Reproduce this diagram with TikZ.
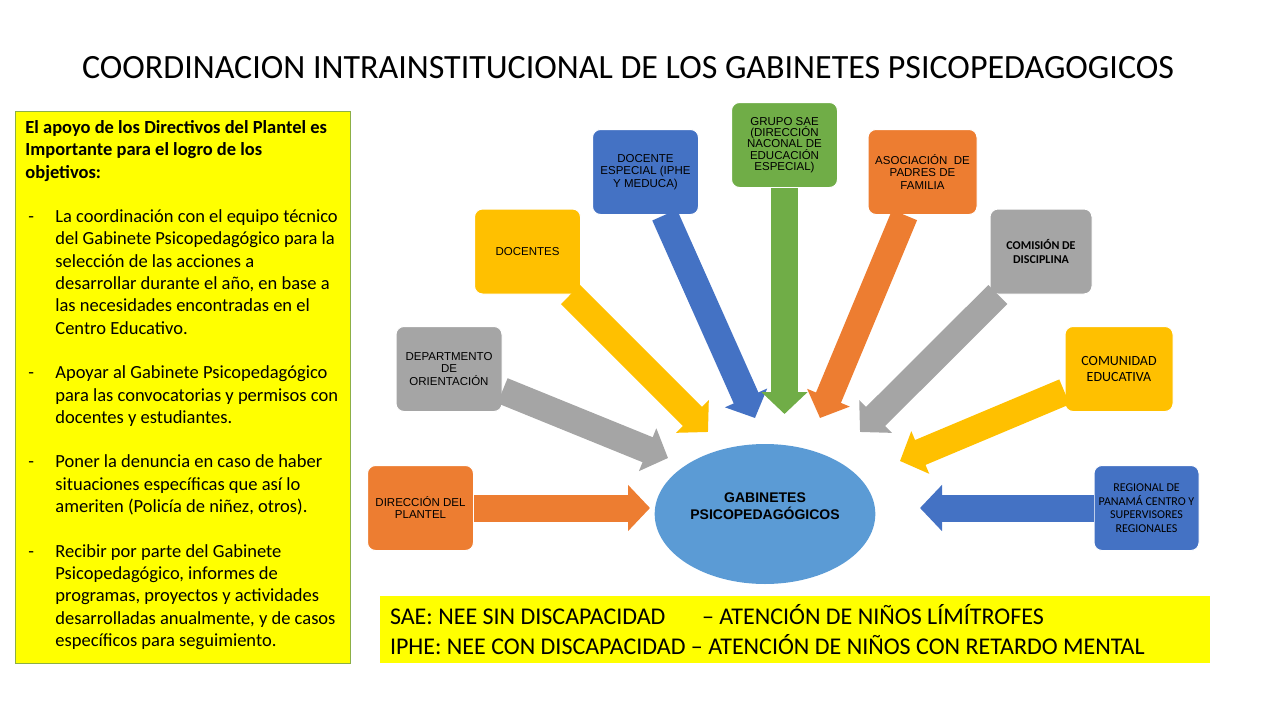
\documentclass[tikz,border=0pt]{standalone}
\usepackage{fontspec}
\setmainfont{Carlito}
\newfontfamily\arialf{Liberation Sans}
\usetikzlibrary{arrows.meta, positioning, shapes.geometric}
\definecolor{cNaranja}{HTML}{ED7D31}
\definecolor{cGris}{HTML}{A5A5A5}
\definecolor{cOro}{HTML}{FFC000}
\definecolor{cAzul}{HTML}{4472C4}
\definecolor{cVerde}{HTML}{70AD47}
\definecolor{cCielo}{HTML}{5B9BD5}
\definecolor{cAmarillo}{HTML}{FFFF00}
\definecolor{cBorde}{RGB}{140,175,70}
\newcommand\guion{\makebox[30pt][l]{\hspace{3pt}-}}
\newcommand\sangria{\hspace*{30pt}}

\begin{document}
\begin{tikzpicture}[x=1pt, y=-1pt,
    caja/.style={draw=white, line width=1pt, rounded corners=8pt, minimum width=106pt,
        minimum height=85pt, align=center, inner sep=2pt,
        font=\arialf\fontsize{11.5}{12}\selectfont},
    flecha/.style={line width=27pt, -{Triangle[width=45pt, length=22pt]}}]
    \useasboundingbox (0,0) rectangle (1280,720);
    % titulo
    \node[font=\fontsize{34}{36}\selectfont] (titulo) at (628,68) {COORDINACION INTRAINSTITUCIONAL DE LOS GABINETES PSICOPEDAGOGICOS};
    % panel izquierdo
    \node[draw=cBorde, fill=cAmarillo, line width=0.8pt, anchor=north west, inner xsep=10pt, inner ysep=9pt] (apoyo) at (15,111)
    {\parbox[c][534pt][t]{315pt}{\raggedright\fontsize{18.5}{22.3}\selectfont
        {\bfseries El apoyo de los Directivos del Plantel es\\
        Importante para el logro de los\\
        objetivos:}\\[22.3pt]
        \guion La coordinación con el equipo técnico\\
        \sangria del Gabinete Psicopedagógico para la\\
        \sangria selección de las acciones a\\
        \sangria desarrollar durante el año, en base a\\
        \sangria las necesidades encontradas en el\\
        \sangria Centro Educativo.\\[22.3pt]
        \guion Apoyar al Gabinete Psicopedagógico\\
        \sangria para las convocatorias y permisos con\\
        \sangria docentes y estudiantes.\\[22.3pt]
        \guion Poner la denuncia en caso de haber\\
        \sangria situaciones específicas que así lo\\
        \sangria ameriten (Policía de niñez, otros).\\[22.3pt]
        \guion Recibir por parte del Gabinete\\
        \sangria Psicopedagógico, informes de\\
        \sangria programas, proyectos y actividades\\
        \sangria desarrolladas anualmente, y de casos\\
        \sangria específicos para seguimiento.}};
    % nota inferior
    \node[fill=cAmarillo, text width=810pt, minimum height=67pt, inner xsep=10pt, align=flush left,
        font=\fontsize{24}{30}\selectfont] (nota) at (795,629.5)
    {\makebox[312pt][l]{SAE: NEE SIN DISCAPACIDAD}– ATENCIÓN DE NIÑOS LÍMÍTROFES\\
        IPHE: NEE CON DISCAPACIDAD – ATENCIÓN DE NIÑOS CON RETARDO MENTAL};
    % centro
    \node[ellipse, fill=cCielo, minimum width=202pt, minimum height=140pt, align=center,
        font=\arialf\bfseries\fontsize{14}{17}\selectfont] (gab) at (765,514) {GABINETES\\PSICOPEDAGÓGICOS\\[-1pt]};
    % cajas
    \node[caja, fill=cNaranja] (dir) at (420.5,508) {DIRECCIÓN DEL\\PLANTEL};
    \node[caja, fill=cGris, font=\arialf\fontsize{11.5}{12.5}\selectfont] (dept) at (449,369) {DEPARTMENTO\\DE\\ORIENTACIÓN};
    \node[caja, fill=cOro] (doc) at (527.5,251.5) {DOCENTES};
    \node[caja, fill=cAzul, font=\arialf\fontsize{11.5}{12.5}\selectfont] (docesp) at (645.5,172) {DOCENTE\\ESPECIAL (IPHE\\Y MEDUCA)};
    \node[caja, fill=cVerde, font=\arialf\fontsize{11.5}{11.3}\selectfont] (sae) at (784.5,145)
        {GRUPO SAE\\(DIRECCIÓN\\NACONAL DE\\EDUCACIÓN\\ESPECIAL)};
    \node[caja, fill=cNaranja, minimum width=109pt, font=\arialf\fontsize{11.5}{12.5}\selectfont] (asoc) at (922.5,172) {ASOCIACIÓN~ DE\\PADRES DE\\FAMILIA};
    \node[caja, fill=cGris, minimum width=102pt, font=\bfseries\fontsize{12}{14}\selectfont] (comis) at (1041,251.5)
        {COMISIÓN DE\\DISCIPLINA};
    \node[caja, fill=cOro, minimum width=108pt, font=\fontsize{14}{16}\selectfont] (comun) at (1119,369)
        {COMUNIDAD\\EDUCATIVA};
    \node[caja, fill=cAzul, minimum width=105pt, font=\fontsize{12}{13.7}\selectfont] (reg) at (1146.5,508)
        {REGIONAL DE\\PANAMÁ CENTRO Y\\SUPERVISORES\\REGIONALES};
    % puntas
    \coordinate (tdir) at (650,508);
    \coordinate (tdept) at (668,458);
    \coordinate (tdoc) at (708,432);
    \coordinate (tdocesp) at (755,418);
    \coordinate (tsae) at (784.5,414);
    \coordinate (tasoc) at (820,418);
    \coordinate (tcomis) at (860,432);
    \coordinate (tcomun) at (900,461);
    \coordinate (treg) at (920,508);
    % flechas
    \draw[flecha, cNaranja] (dir) -- (tdir);
    \draw[flecha, cGris] (dept) -- (tdept);
    \draw[flecha, cOro] (doc) -- (tdoc);
    \draw[flecha, cAzul] (docesp) -- (tdocesp);
    \draw[flecha, cVerde] (sae) -- (tsae);
    \draw[flecha, cNaranja] (asoc) -- (tasoc);
    \draw[flecha, cGris] (comis) -- (tcomis);
    \draw[flecha, cOro] (comun) -- (tcomun);
    \draw[flecha, cAzul] (reg) -- (treg);
\end{tikzpicture}
\end{document}
